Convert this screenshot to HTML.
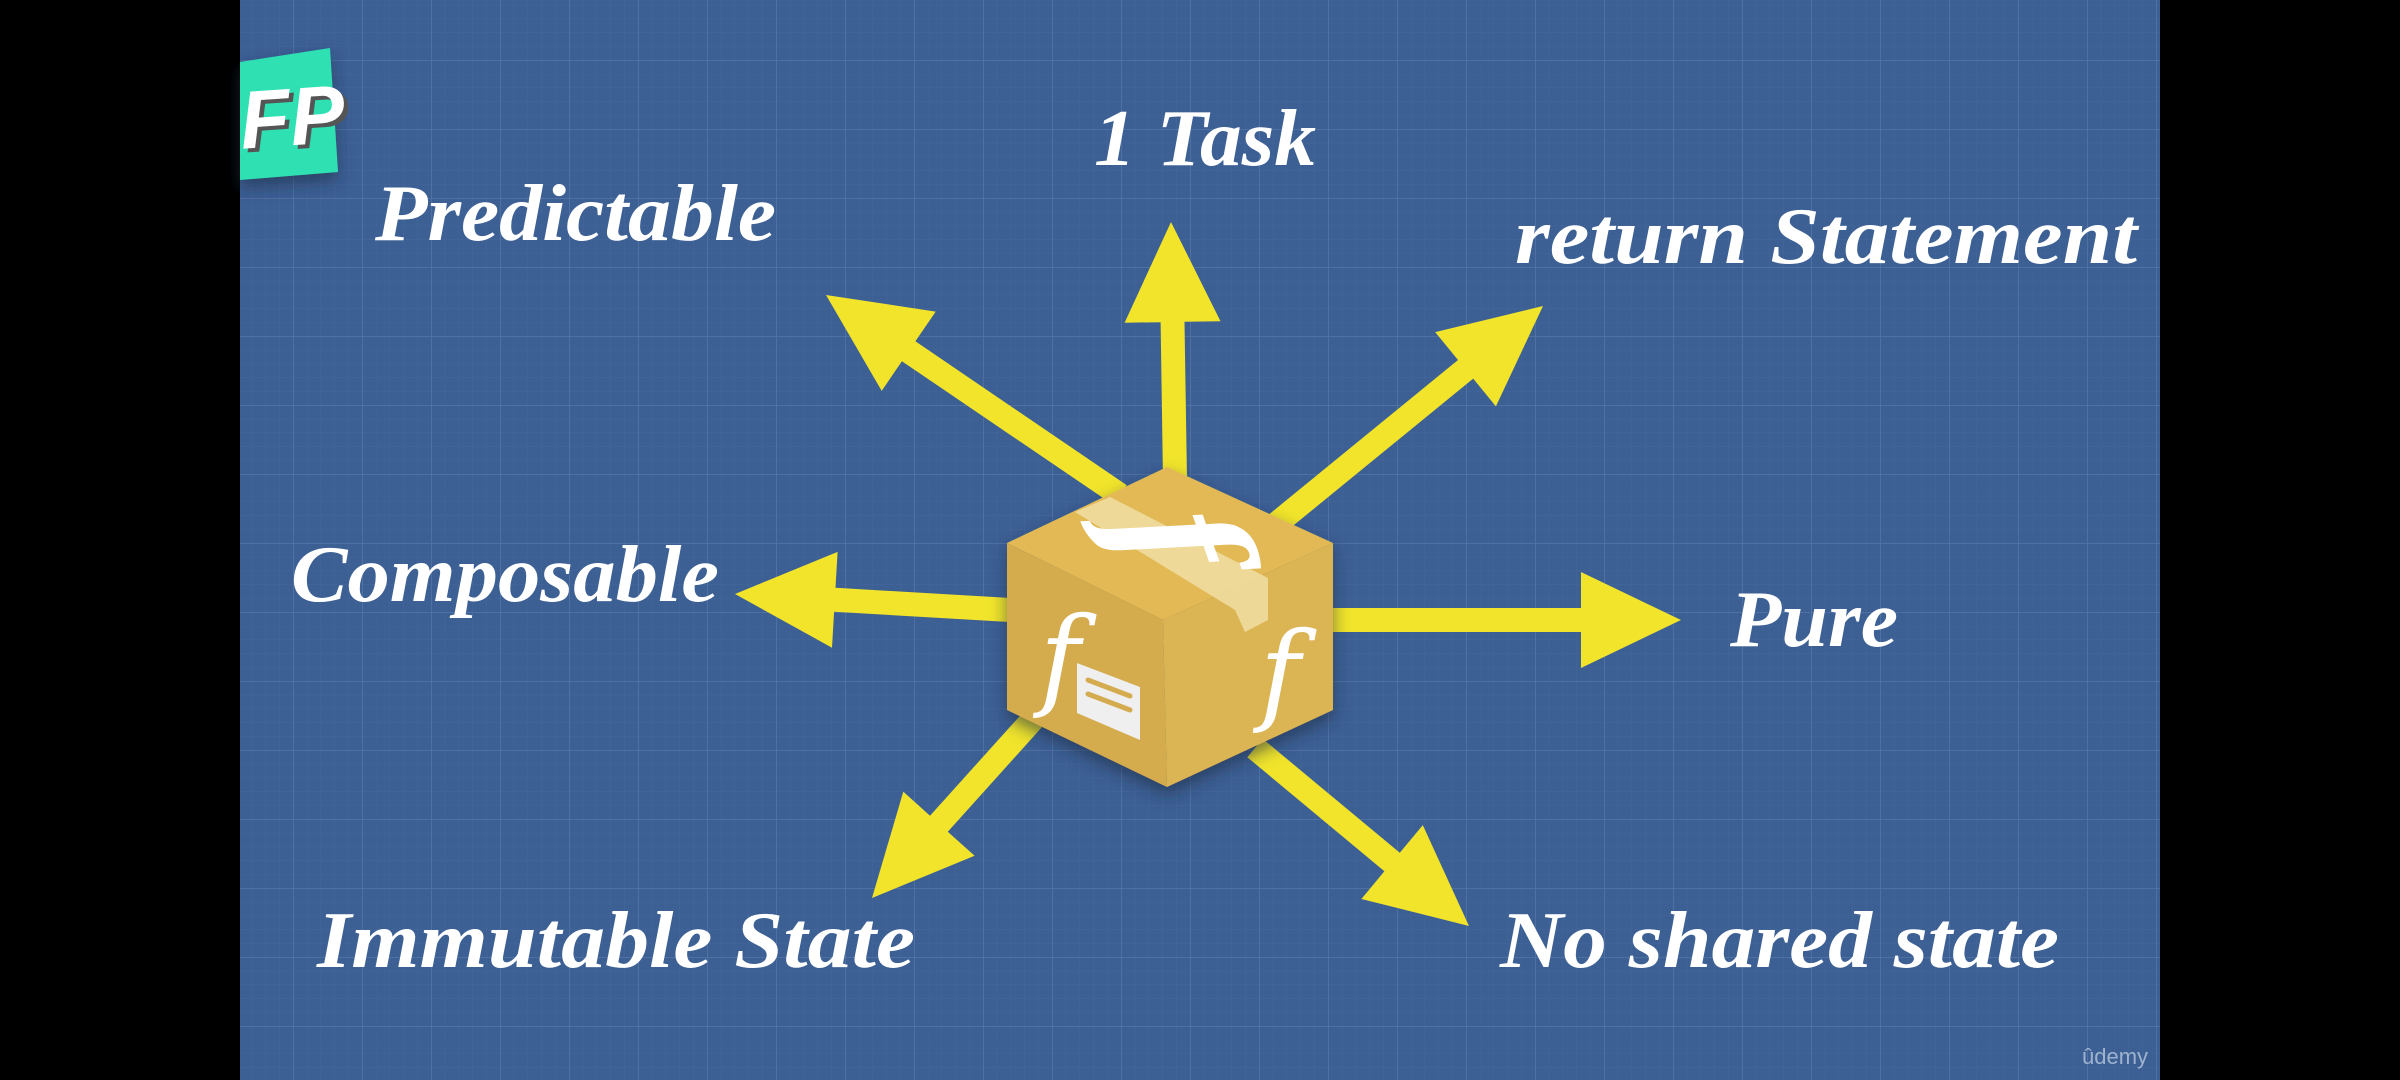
<!DOCTYPE html>
<html><head><meta charset="utf-8"><style>
html,body{margin:0;padding:0;background:#000;width:2400px;height:1080px;overflow:hidden}
svg{display:block}
.l{font-family:"Liberation Serif",serif;font-style:italic;font-weight:bold;font-size:80px;fill:#fff}
</style></head><body>
<svg id="s" width="2400" height="1080" viewBox="0 0 2400 1080" xmlns="http://www.w3.org/2000/svg">
<defs>
<pattern id="minor" x="17" y="60" width="13.8" height="13.8" patternUnits="userSpaceOnUse">
<path d="M0 0H13.8M0 0V13.8" stroke="#5b7bab" stroke-width="1" fill="none" opacity="0.3"/>
</pattern>
<pattern id="major" x="17" y="60" width="69" height="69" patternUnits="userSpaceOnUse">
<path d="M0 0H69M0 0V69" stroke="#6585b4" stroke-width="1.5" fill="none" opacity="0.5"/>
</pattern>
<filter id="sh" x="-20%" y="-20%" width="140%" height="140%"><feDropShadow dx="0" dy="8" stdDeviation="8" flood-color="#1a2a45" flood-opacity="0.6"/></filter>
</defs>
<rect x="240" y="0" width="1920" height="1080" fill="#3c5f94"/>
<rect x="240" y="0" width="1920" height="1080" fill="url(#minor)"/>
<rect x="240" y="0" width="1920" height="1080" fill="url(#major)"/>
<g id="arrows" fill="#f1e42b"></g>
<g filter="url(#sh)">
<polygon points="1167,467 1333,543 1163,620 1007,543" fill="#e2b955"/>
<polygon points="1007,543 1163,620 1167,787 1007,710" fill="#d4ab4e"/>
<polygon points="1163,620 1333,543 1333,710 1167,787" fill="#dbb452"/>
</g>
<polygon points="1075,512 1110,497 1268,578 1268,620 1245,632 1235,610" fill="#f1dea5" opacity="0.85"/>
<g transform="translate(1167,540) scale(1,0.75) rotate(75)">
<text x="0" y="45" font-family="DejaVu Serif,serif" font-style="italic" font-weight="bold" font-size="170" fill="#fff" text-anchor="middle">f</text>
</g>
<text x="1060" y="695" font-family="DejaVu Serif,serif" font-style="italic" font-size="110" fill="#fff" text-anchor="middle">f</text>
<text x="1280" y="710" font-family="DejaVu Serif,serif" font-style="italic" font-size="110" fill="#fff" text-anchor="middle">f</text>
<polygon points="1077,663 1140,687 1140,740 1077,713" fill="#efefef"/>
<line x1="1088" y1="680" x2="1130" y2="696" stroke="#d4ab4e" stroke-width="5" stroke-linecap="round"/>
<line x1="1088" y1="694" x2="1130" y2="710" stroke="#d4ab4e" stroke-width="5" stroke-linecap="round"/>
<text class="l" x="1094" y="165" textLength="222" lengthAdjust="spacingAndGlyphs">1 Task</text>
<text class="l" x="375" y="240" textLength="401" lengthAdjust="spacingAndGlyphs">Predictable</text>
<text class="l" x="1515" y="263" textLength="622" lengthAdjust="spacingAndGlyphs">return Statement</text>
<text class="l" x="291" y="601" textLength="428" lengthAdjust="spacingAndGlyphs">Composable</text>
<text class="l" x="1730" y="646" textLength="168" lengthAdjust="spacingAndGlyphs">Pure</text>
<text class="l" x="317" y="967" textLength="598" lengthAdjust="spacingAndGlyphs">Immutable State</text>
<text class="l" x="1500" y="967" textLength="559" lengthAdjust="spacingAndGlyphs">No shared state</text>
<polygon points="240,62 330,48 338,172 240,180" fill="#2fe0b2" filter="url(#sh)"/>
<text x="244" y="150" font-family="Liberation Sans,sans-serif" font-weight="bold" font-style="italic" font-size="82" fill="#555" transform="rotate(-4 280 120)">FP</text>
<text x="240" y="146" font-family="Liberation Sans,sans-serif" font-weight="bold" font-style="italic" font-size="82" fill="#fff" transform="rotate(-4 280 120)">FP</text>
<text x="2082" y="1064" font-family="Liberation Sans,sans-serif" font-size="22" fill="#9fb3cf">ûdemy</text>
</svg>
<script>
var A=[[1175,480,1171,222],[1120,495,826,295],[1275,525,1543,306],[1010,610,735,594],[1330,620,1681,620],[1035,717,872,898],[1255,748,1469,926]];
var g=document.getElementById('arrows'),h='';
A.forEach(function(a){var dx=a[2]-a[0],dy=a[3]-a[1],L=Math.hypot(dx,dy),ux=dx/L,uy=dy/L,px=-uy,py=ux;
var w=12,hw=48,hl=100;var bx=a[2]-ux*hl,by=a[3]-uy*hl;
var p=[[a[0]+px*w,a[1]+py*w],[bx+px*w,by+py*w],[bx+px*hw,by+py*hw],[a[2],a[3]],[bx-px*hw,by-py*hw],[bx-px*w,by-py*w],[a[0]-px*w,a[1]-py*w]];
h+='<polygon points="'+p.map(function(q){return q[0].toFixed(1)+','+q[1].toFixed(1)}).join(' ')+'"/>';});
g.innerHTML=h;
</script>
</body></html>
